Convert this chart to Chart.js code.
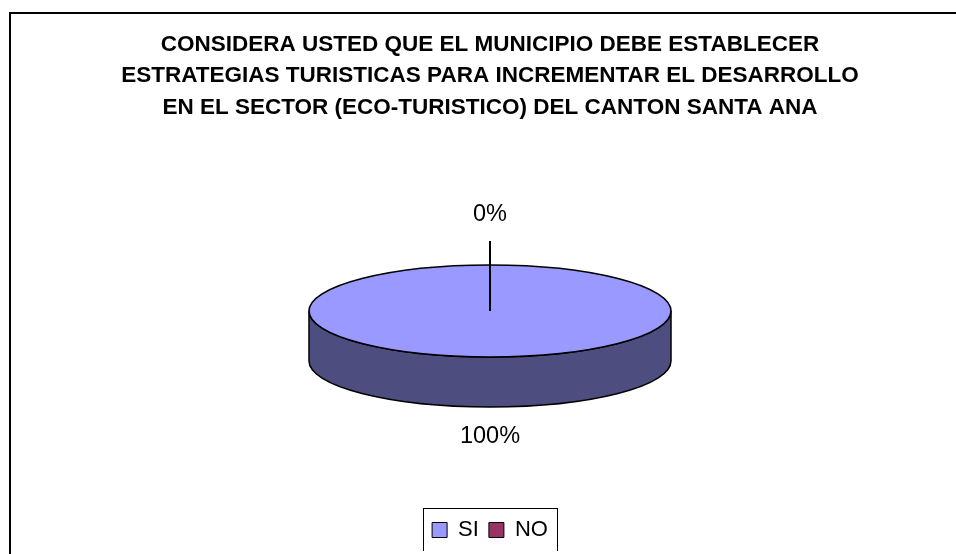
<!DOCTYPE html>
<html>
<head>
<meta charset="utf-8">
<script src="https://cdn.jsdelivr.net/npm/chart.js@4"></script>
<style>
  body { margin: 0; background: #fff; overflow: hidden; width: 956px; height: 554px; }
  #marco { position: absolute; left: 9px; top: 12px; width: 962px; height: 600px; border: 2px solid #000; box-sizing: border-box; }
  #grafico { display: block; }
</style>
</head>
<body>
<div id="marco">
  <canvas id="grafico" width="958" height="537"></canvas>
</div>
<script>
const ctx = document.getElementById('grafico');

const titulo = [
    'CONSIDERA USTED QUE EL MUNICIPIO DEBE ESTABLECER',
    'ESTRATEGIAS TURISTICAS PARA INCREMENTAR EL DESARROLLO',
    'EN EL SECTOR (ECO-TURISTICO) DEL CANTON SANTA ANA'
]
const respuestas = ['SI', 'NO']
const porcentajes = [100, 0]
const colores = ['#9999FF', '#993366']

// geometria del pastel 3d
const PIE_Y = 297
const PIE_RX = 181
const PIE_RY = 46
const PROF = 50

const fuente = 'Liberation Sans, Arial, sans-serif'

function oscurecer(hex) {
    const n = parseInt(hex.slice(1), 16)
    const r = Math.round(((n >> 16) & 255) * 0.5)
    const g = Math.round(((n >> 8) & 255) * 0.5)
    const b = Math.round((n & 255) * 0.5)
    return `rgb(${r},${g},${b})`
}

const pastel3d = {
    id: 'pastel3d',
    beforeDatasetsDraw(chart) {
        const c = chart.ctx
        const meta = chart.getDatasetMeta(0)
        const a0 = meta.data[0]
        const cx = a0.x
        // paredes laterales (mitad frontal)
        meta.data.forEach((arc, i) => {
            if (arc.endAngle - arc.startAngle <= 0) return
            for (let k = -1; k <= 1; k++) {
                const s = Math.max(arc.startAngle, 2 * Math.PI * k)
                const e = Math.min(arc.endAngle, 2 * Math.PI * k + Math.PI)
                if (e <= s) continue
                c.beginPath()
                c.ellipse(cx, PIE_Y + PROF, PIE_RX, PIE_RY, 0, s, e)
                c.ellipse(cx, PIE_Y, PIE_RX, PIE_RY, 0, e, s, true)
                c.closePath()
                c.fillStyle = oscurecer(colores[i])
                c.fill()
                c.lineWidth = 1.5
                c.strokeStyle = '#000'
                c.stroke()
            }
        })
        c.save()
        c.translate(cx, PIE_Y)
        c.scale(PIE_RX / a0.outerRadius, PIE_RY / a0.outerRadius)
        c.translate(-a0.x, -a0.y)
    },
    afterDatasetsDraw(chart) {
        const c = chart.ctx
        c.restore()
        const meta = chart.getDatasetMeta(0)
        const cx = meta.data[0].x
        const total = porcentajes.reduce((a, b) => a + b, 0)
        c.lineWidth = 1.6
        c.strokeStyle = '#000'
        meta.data.forEach((arc, i) => {
            const span = arc.endAngle - arc.startAngle
            if (span <= 0) return
            c.beginPath()
            if (span >= 2 * Math.PI - 1e-6) {
                c.ellipse(cx, PIE_Y, PIE_RX, PIE_RY, 0, 0, 2 * Math.PI)
            } else {
                c.moveTo(cx, PIE_Y)
                c.ellipse(cx, PIE_Y, PIE_RX, PIE_RY, 0, arc.startAngle, arc.endAngle)
                c.closePath()
            }
            c.stroke()
        })
        // etiquetas de porcentaje
        c.font = '23.5px ' + fuente
        c.fillStyle = '#000'
        c.textAlign = 'center'
        c.textBaseline = 'middle'
        meta.data.forEach((arc, i) => {
            const mid = (arc.startAngle + arc.endAngle) / 2
            const sn = Math.sin(mid), cs = Math.cos(mid)
            const ex = cx + PIE_RX * cs
            const ey = PIE_Y + PIE_RY * sn + (sn > 0 ? PROF : 0)
            const lx = ex + cs * 40
            const ly = ey + sn * (sn > 0 ? 30 : 50)
            const pct = Math.round(porcentajes[i] / total * 100) + '%'
            c.fillText(pct, lx, ly)
            if (porcentajes[i] === 0) {
                c.beginPath()
                c.lineWidth = 2
                c.moveTo(lx, ly + 26)
                c.lineTo(cx, PIE_Y)
                c.stroke()
            }
        })
    },
    afterDraw(chart) {
        const cajas = chart.legend.legendHitBoxes
        if (!cajas || !cajas.length) return
        const c = chart.ctx
        let x1 = Infinity, x2 = -Infinity, y1 = Infinity, y2 = -Infinity
        cajas.forEach(b => {
            x1 = Math.min(x1, b.left); x2 = Math.max(x2, b.left + b.width)
            y1 = Math.min(y1, b.top); y2 = Math.max(y2, b.top + b.height)
        })
        c.save()
        c.lineWidth = 1
        c.strokeStyle = '#000'
        c.strokeRect(Math.round(x1 - 9) + 0.5, Math.round(y1 - 11) + 0.5, Math.round(x2 - x1 + 18), Math.round(y2 - y1 + 21))
        c.restore()
    }
}

new Chart(ctx, {
    type: 'pie',
    data: {
        labels: respuestas,
        datasets: [{
            data: porcentajes,
            backgroundColor: colores,
            borderWidth: 0
        }]
    },
    options: {
        responsive: false,
        animation: false,
        layout: { padding: { top: 0, bottom: 0 } },
        plugins: {
            title: {
                display: true,
                text: titulo,
                color: '#000',
                font: { family: fuente, size: 22.5, weight: 'bold', lineHeight: 1.4 },
                padding: { top: 15, bottom: 20 }
            },
            legend: {
                position: 'bottom',
                labels: {
                    color: '#000',
                    font: { family: fuente, size: 22 },
                    boxWidth: 15,
                    boxHeight: 15,
                    padding: 10,
                    generateLabels(chart) {
                        const items = Chart.overrides.pie.plugins.legend.labels.generateLabels(chart)
                        items.forEach(it => { it.lineWidth = 1; it.strokeStyle = '#000' })
                        return items
                    }
                }
            },
            tooltip: { enabled: false }
        }
    },
    plugins: [pastel3d]
});
</script>
</body>
</html>
